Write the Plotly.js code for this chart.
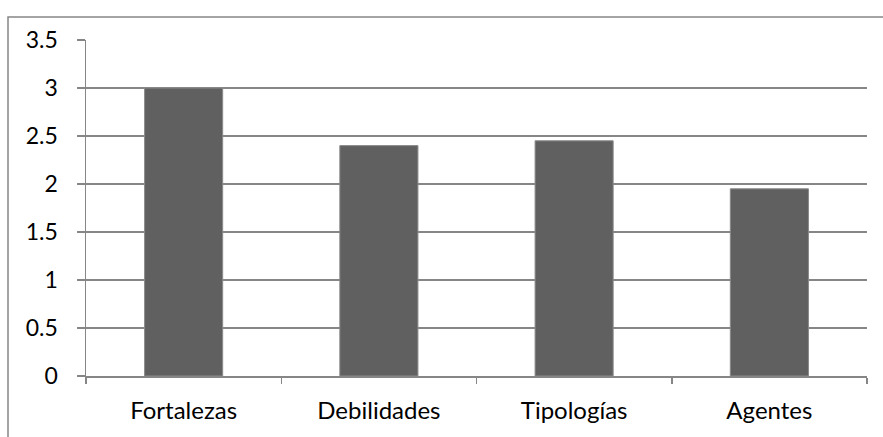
<!DOCTYPE html>
<html><head><meta charset="utf-8">
<script src="https://cdn.plot.ly/plotly-3.0.1.min.js"></script>
<style>html,body{margin:0;padding:0;background:#fff}#c{width:883px;height:437px}</style>
</head><body><div id="c"></div>
<script>
const categories = ["Fortalezas", "Debilidades", "Tipologías", "Agentes"];
const values = [3.0, 2.4, 2.45, 1.95];
const yTicks = [0, 0.5, 1, 1.5, 2, 2.5, 3, 3.5];
const yTickText = ["0", "0.5", "1", "1.5", "2", "2.5", "3", "3.5"];

const data = [{
  type: "bar", x: categories, y: values,
  marker: {color: "#606060", line: {color: "#8a8a8a", width: 1}},
  hoverinfo: "none"
}];
const layout = {
  width: 883, height: 437,
  margin: {l: 86, r: 16, t: 40, b: 61},
  paper_bgcolor: "#fff", plot_bgcolor: "#fff",
  bargap: 0.6, showlegend: false,
  font: {family: "Lato, 'Open Sans', sans-serif", size: 22, color: "#000"},
  xaxis: {
    showline: true, linecolor: "#868686", linewidth: 1.5,
    ticks: "outside", tickson: "boundaries", ticklen: 6, tickcolor: "#868686", tickwidth: 1.5,
    ticklabelstandoff: 13,
    showgrid: false, zeroline: false, fixedrange: true,
    tickfont: {size: 24}
  },
  yaxis: {
    range: [0, 3.5], tickvals: yTicks, ticktext: yTickText,
    showline: true, linecolor: "#868686", linewidth: 1.5,
    ticks: "outside", ticklen: 8, tickcolor: "#868686", tickwidth: 1.5,
    ticklabelstandoff: 14,
    showgrid: true, gridcolor: "#868686", gridwidth: 1.5, zeroline: false, fixedrange: true,
    tickfont: {size: 23}
  },
  shapes: [{
    type: "rect", xref: "paper", yref: "paper",
    x0: (8 - 86) / 781, x1: 1.2, y0: -0.4, y1: 1 + (40 - 17) / 336,
    line: {color: "#868686", width: 1.5}, fillcolor: "rgba(0,0,0,0)", layer: "below"
  }]
};
Plotly.newPlot("c", data, layout, {staticPlot: true, displayModeBar: false});
</script></body></html>
